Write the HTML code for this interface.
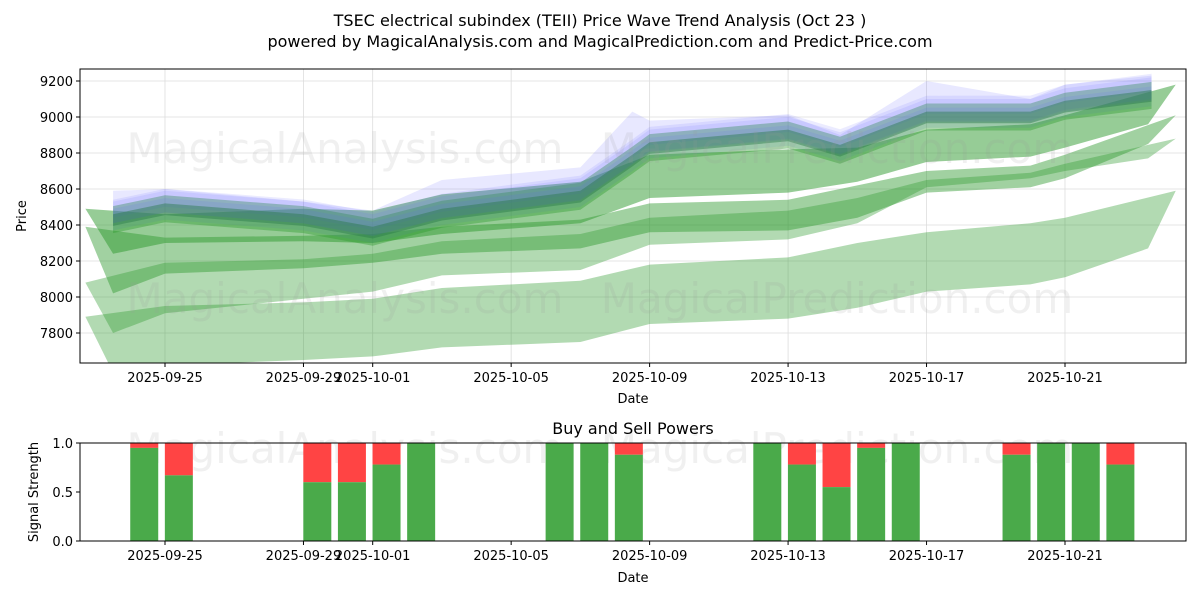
<!DOCTYPE html>
<html><head><meta charset="utf-8"><style>
body{margin:0;background:#fff;font-family:"Liberation Sans","DejaVu Sans",sans-serif}
</style></head><body>
<svg id="chart" width="1200" height="600" xmlns="http://www.w3.org/2000/svg" font-family="DejaVu Sans, Liberation Sans, sans-serif">
<rect width="1200" height="600" fill="#fff"/>
<text x="600" y="26" text-anchor="middle" font-size="16">TSEC electrical subindex (TEII) Price Wave Trend Analysis (Oct 23 )</text>
<text x="600" y="47" text-anchor="middle" font-size="16">powered by MagicalAnalysis.com and MagicalPrediction.com and Predict-Price.com</text>
<g id="topPanel"></g>
<g id="botPanel"></g>
</svg>
<script>
const tickDates=['2025-09-25','2025-09-29','2025-10-01','2025-10-05','2025-10-09','2025-10-13','2025-10-17','2025-10-21'];
const tickDays=[0,4,6,10,14,18,22,26];
const priceTicks=[7800,8000,8200,8400,8600,8800,9000,9200];
// main trend
const lineDays=[-1.5,0,4,6,8,12,13.5,14,18,19.5,22,25,26,28.5];
const linePrices=[8430,8490,8430,8360,8460,8560,8760,8830,8900,8815,9000,9000,9060,9120];
const blueTop=[8590,8600,8530,8480,8650,8720,9030,8980,9010,8900,9200,9100,9180,9230];
const bandStartOff=[0,40,60,20];
const bandEndOff=[0,40,70,10];
const bandHalf=[75,60,50,40];
// lower forecast bands (top/bottom prices)
const waveDays=[-2.3,0,4,6,8,12,14,18,20,22,25,26,29.2];
const bandBTop=[8490,8460,8490,8480,8570,8640,8790,8820,8830,8930,8960,9010,9180];
const bandBBot=[8240,8300,8310,8300,8350,8410,8550,8580,8640,8750,8780,8830,8960];
const bandCTop=[8390,8330,8340,8350,8390,8430,8520,8540,8620,8700,8730,8790,9010];
const bandCBot=[8020,8130,8160,8190,8240,8270,8360,8370,8440,8580,8610,8660,8850];
const bandDTop=[8080,8190,8210,8240,8310,8350,8440,8480,8550,8650,8690,8740,8880];
const bandDBot=[7800,7910,7990,8030,8120,8150,8290,8320,8410,8610,8660,8700,8770];
const bandETop=[7890,7950,7970,7990,8050,8090,8180,8220,8300,8360,8410,8440,8590];
const bandEBot=[7580,7620,7650,7670,7720,7750,7850,7880,7940,8030,8070,8110,8270];

const NS='http://www.w3.org/2000/svg';
const L=80,R=1186,T=69,B=363,BT=443,BB=541;
const xd=d=>165+d*(900/26);
const yp=p=>81+(9200-p)*(252/1400);
const ys=v=>BB-v*(BB-BT);
function mk(par,tag,at){const e=document.createElementNS(NS,tag);for(const k in at)e.setAttribute(k,at[k]);par.appendChild(e);return e;}
const topG=document.getElementById('topPanel'),botG=document.getElementById('botPanel');

tickDays.forEach(d=>{const g=mk(topG,'line',{x1:xd(d),x2:xd(d),y1:T,y2:B,stroke:'#ddd','stroke-width':0.8});

});
priceTicks.forEach(p=>{const g=mk(topG,'line',{x1:L,x2:R,y1:yp(p),y2:yp(p),stroke:'#ddd','stroke-width':0.8});

});

const clip=mk(topG,'clipPath',{id:'cp'});mk(clip,'rect',{x:L,y:T,width:R-L,height:B-T});
const bg=mk(topG,'g',{'clip-path':'url(#cp)'});

[[bandETop,bandEBot,0.37],[bandDTop,bandDBot,0.37],[bandCTop,bandCBot,0.45],[bandBTop,bandBBot,0.5]].forEach(b=>{
  const up=[],dn=[];
  waveDays.forEach((d,j)=>{up.push(xd(d)+','+yp(b[0][j]));dn.unshift(xd(d+0.8*(j==0?1:(j==waveDays.length-1?-1:0)))+','+yp(b[1][j]));});
  const p=mk(bg,'polygon',{points:up.concat(dn).join(' '),fill:'#2e9a2e','fill-opacity':b[2]});
  
  
});

{const up=[],dn=[];lineDays.forEach((d,j)=>{up.push(xd(d)+','+yp(blueTop[j]));dn.unshift(xd(d)+','+yp(linePrices[j]-60));});
const p=mk(bg,'polygon',{points:up.concat(dn).join(' '),fill:'#6666ff','fill-opacity':0.15});

}

const n=lineDays.length, d0=lineDays[0], d1=lineDays[n-1];
bandStartOff.forEach((so,i)=>{
  const eo=bandEndOff[i],h=bandHalf[i];const up=[],dn=[];
  lineDays.forEach((d,j)=>{const off=so+(eo-so)*(d-d0)/(d1-d0);const c=linePrices[j]+off;
    up.push(xd(d)+','+yp(c+h));dn.unshift(xd(d)+','+yp(c-h));});
  const blue=i>=1;
  const p=mk(bg,'polygon',{points:up.concat(dn).join(' '),fill:blue?'#6666ff':'#2e9a2e','fill-opacity':blue?0.13:0.4});
  
  
});
{const up=[],dn=[];lineDays.forEach((d,j)=>{up.push(xd(d)+','+yp(linePrices[j]+30));dn.unshift(xd(d)+','+yp(linePrices[j]-35));});
const p=mk(bg,'polygon',{points:up.concat(dn).join(' '),fill:'#2a7a4a','fill-opacity':0.45});

}

[[345,163,'MagicalAnalysis.com'],[837,163,'MagicalPrediction.com'],[345,313,'MagicalAnalysis.com'],[837,313,'MagicalPrediction.com']].forEach(w=>{
  const t=mk(topG,'text',{x:w[0],y:w[1],'text-anchor':'middle','font-size':42,fill:'#999','fill-opacity':0.15});t.textContent=w[2];
  
  });

const fr=mk(topG,'rect',{x:L,y:T,width:R-L,height:B-T,fill:'none',stroke:'#000','stroke-width':1});


tickDays.forEach((d,i)=>{mk(topG,'line',{x1:xd(d),x2:xd(d),y1:B,y2:B+4,stroke:'#000'});
  const t=mk(topG,'text',{x:xd(d),y:B+19,'text-anchor':'middle','font-size':13});t.textContent=tickDates[i];
  
  });
priceTicks.forEach(p=>{mk(topG,'line',{x1:L-4,x2:L,y1:yp(p),y2:yp(p),stroke:'#000'});
  const t=mk(topG,'text',{x:L-7,y:yp(p)+5,'text-anchor':'end','font-size':13});t.textContent=p;
  
  });
let t=mk(topG,'text',{x:633,y:403,'text-anchor':'middle','font-size':13});t.textContent='Date';


t=mk(topG,'text',{x:26,y:216,'text-anchor':'middle','font-size':13,transform:'rotate(-90 26 216)'});t.textContent='Price';



[[345,463,'MagicalAnalysis.com'],[837,463,'MagicalPrediction.com']].forEach(w=>{
  const tt=mk(botG,'text',{x:w[0],y:w[1],'text-anchor':'middle','font-size':42,fill:'#999','fill-opacity':0.15});tt.textContent=w[2];
  
  });
const barDays=[-0.6,0.4,4.4,5.4,6.4,7.4,11.4,12.4,13.4,17.4,18.4,19.4,20.4,21.4,24.6,25.6,26.6,27.6];
const buyVals=[0.95,0.67,0.6,0.6,0.78,1.0,1.0,1.0,0.88,1.0,0.78,0.55,0.95,1.0,0.88,1.0,1.0,0.78];
barDays.forEach((d,i)=>{const x=xd(d)-14,v=buyVals[i];
  const r=mk(botG,'rect',{x:x,y:ys(1),width:28,height:ys(v)-ys(1),fill:'#ff4444'});
  
  
  const g=mk(botG,'rect',{x:x,y:ys(v),width:28,height:BB-ys(v),fill:'#4aaa4a'});
  
  });
const fr2=mk(botG,'rect',{x:L,y:BT,width:R-L,height:BB-BT,fill:'none',stroke:'#000','stroke-width':1});


tickDays.forEach((d,i)=>{mk(botG,'line',{x1:xd(d),x2:xd(d),y1:BB,y2:BB+4,stroke:'#000'});
  const tt=mk(botG,'text',{x:xd(d),y:BB+19,'text-anchor':'middle','font-size':13});tt.textContent=tickDates[i];
  
  });
[0,0.5,1].forEach(v=>{mk(botG,'line',{x1:L-4,x2:L,y1:ys(v),y2:ys(v),stroke:'#000'});
  const tt=mk(botG,'text',{x:L-7,y:ys(v)+5,'text-anchor':'end','font-size':13});tt.textContent=v.toFixed(1);
  
  });
t=mk(botG,'text',{x:633,y:434,'text-anchor':'middle','font-size':16});t.textContent='Buy and Sell Powers';


t=mk(botG,'text',{x:633,y:582,'text-anchor':'middle','font-size':13});t.textContent='Date';


t=mk(botG,'text',{x:38,y:492,'text-anchor':'middle','font-size':13,transform:'rotate(-90 38 492)'});t.textContent='Signal Strength';


</script>
</body></html>
